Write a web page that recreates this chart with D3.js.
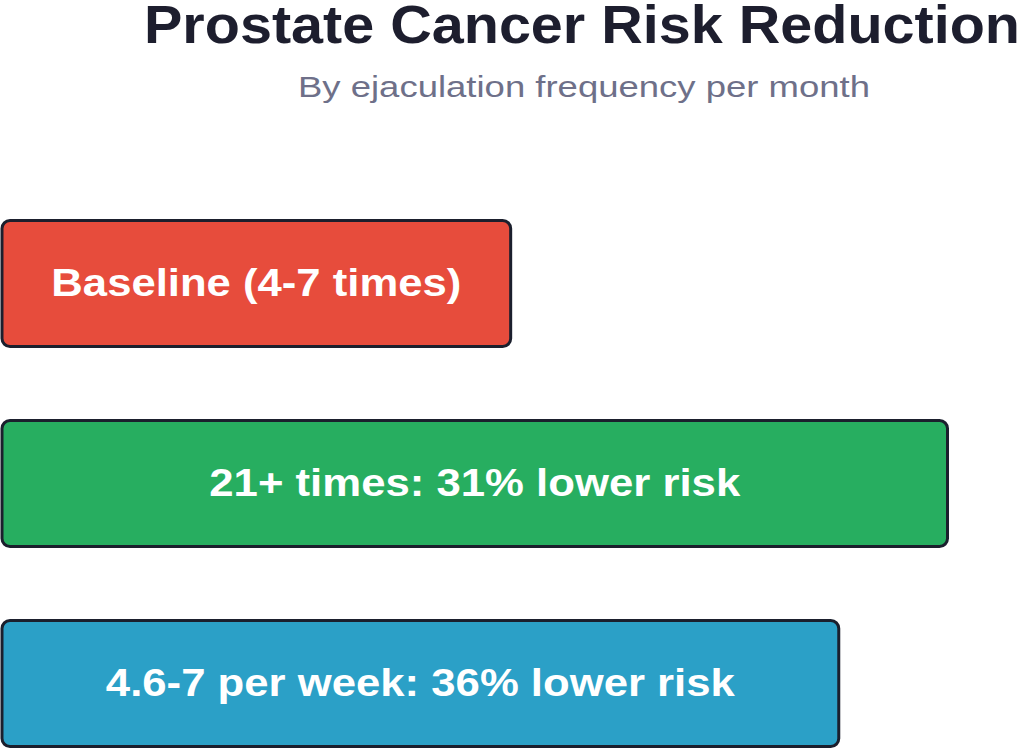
<!DOCTYPE html>
<html>
<head>
<meta charset="utf-8">
<script src="https://cdn.jsdelivr.net/npm/d3@7"></script>
<style>
  body { margin: 0; background: #fff; overflow: hidden; }
  svg { display: block; font-family: "Liberation Sans", Arial, sans-serif; }
</style>
</head>
<body>
<div id="chart"></div>
<script>
// chart data
const categories = ['Baseline (4-7 times)', '21+ times: 31% lower risk', '4.6-7 per week: 36% lower risk'];
const barValues = [53.8, 100, 88.5];
const barColors = ['#e74c3c', '#27ae60', '#2ba0c7'];

const width = 1024;
const height = 749;

const svg = d3.select('#chart').append('svg')
    .attr('width', width)
    .attr('height', height);

// title + subtitle
svg.append('text')
    .attr('x', 582)
    .attr('y', 43)
    .attr('text-anchor', 'middle')
    .attr('textLength', 876)
    .attr('lengthAdjust', 'spacingAndGlyphs')
    .style('font-size', '54px')
    .style('font-weight', 'bold')
    .style('fill', '#1d1e2e')
    .text('Prostate Cancer Risk Reduction');

svg.append('text')
    .attr('x', 584)
    .attr('y', 97)
    .attr('text-anchor', 'middle')
    .attr('textLength', 572)
    .attr('lengthAdjust', 'spacingAndGlyphs')
    .style('font-size', '30px')
    .style('fill', '#6e7089')
    .text('By ejaculation frequency per month');

// scales
const x = d3.scaleLinear()
    .domain([0, 100])
    .range([2, 947.5]);

const y = d3.scaleBand()
    .domain(categories)
    .range([220.5, 746.5])
    .paddingInner(0.37)
    .paddingOuter(0);

const rows = categories.map((c, i) => ({label: c, value: barValues[i], color: barColors[i]}));

const bar = svg.selectAll('.bar')
    .data(rows)
    .enter().append('g')
    .attr('class', 'bar');

bar.append('rect')
    .attr('x', x(0))
    .attr('y', d => y(d.label))
    .attr('width', d => x(d.value) - x(0))
    .attr('height', y.bandwidth())
    .attr('rx', 8)
    .attr('ry', 8)
    .attr('fill', d => d.color)
    .attr('stroke', '#1b1f2d')
    .attr('stroke-width', 3);

// label widths
const labelWidths = [410, 531, 629];

bar.append('text')
    .attr('x', d => (x(0) + x(d.value)) / 2)
    .attr('y', d => y(d.label) + y.bandwidth() / 2 + 12)
    .attr('text-anchor', 'middle')
    .attr('textLength', (d, i) => labelWidths[i])
    .attr('lengthAdjust', 'spacingAndGlyphs')
    .style('font-size', '38px')
    .style('font-weight', 'bold')
    .style('fill', '#fff')
    .text(d => d.label);
</script>
</body>
</html>
